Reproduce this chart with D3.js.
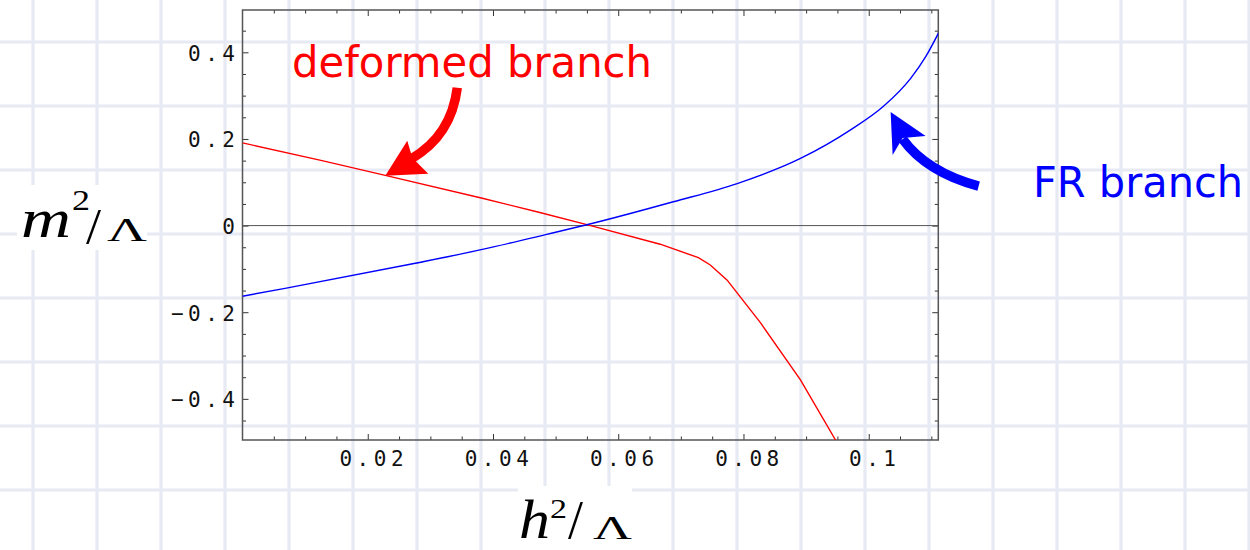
<!DOCTYPE html>
<html>
<head>
<meta charset="utf-8">
<script src="https://cdn.jsdelivr.net/npm/d3@7"></script>
<style>
  html, body { margin: 0; padding: 0; background: #fff; }
  svg { display: block; }
</style>
</head>
<body>
<svg id="chart" width="1250" height="550"></svg>
<script>
// values
var redBranch = [[0, 0.191], [0.0127, 0.150], [0.0228, 0.116], [0.0383, 0.063], [0.047, 0.032],
                 [0.0553, 0.001], [0.0667, -0.043], [0.0728, -0.074], [0.0747, -0.091],
                 [0.0774, -0.126], [0.0827, -0.224], [0.0891, -0.356], [0.0947, -0.495], [0.096, -0.53]]
var blueBranch = [[0, -0.163], [0.0068, -0.145], [0.0276, -0.087], [0.0383, -0.055], [0.0484, -0.021],
                  [0.0553, 0.003], [0.0688, 0.055], [0.079, 0.097], [0.0891, 0.155], [0.0971, 0.221],
                  [0.1024, 0.276], [0.1067, 0.34], [0.1091, 0.39], [0.1112, 0.446]]
var xTicks = [0.02, 0.04, 0.06, 0.08, 0.1]
var xTickLabels = ['0.02', '0.04', '0.06', '0.08', '0.1']
var yTicks = [-0.4, -0.2, 0, 0.2, 0.4]
var yTickLabels = ['\u22120.4', '\u22120.2', '0', '0.2', '0.4']
var xDomain = [0, 1 / 9]
var yDomain = [-0.495, 0.4977]

var RED = '#ff0000',
	BLUE = '#0000ff',
	GRID_COLOR = '#e7eaf3',
	AXIS_COLOR = '#555',
	TICK_FONT = '"DejaVu Sans Mono", monospace',
	MATH_FONT = '"Liberation Serif", "Times New Roman", serif',
	NOTE_FONT = '"DejaVu Sans", Verdana, sans-serif'

var svg = d3.select('#chart')

var x = d3.scaleLinear().domain(xDomain).range([242.5, 938.3])
var y = d3.scaleLinear().domain(yDomain).range([440, 10])

// graph paper background
var paper = svg.append('g').attr('class', 'paper')
paper.selectAll('line.v').data(d3.range(33, 1260, 64)).enter().append('line')
	.attr('class', 'v')
	.attr('x1', function(d){ return d }).attr('x2', function(d){ return d })
	.attr('y1', 0).attr('y2', 550)
paper.selectAll('line.h').data(d3.range(42, 560, 64)).enter().append('line')
	.attr('class', 'h')
	.attr('y1', function(d){ return d }).attr('y2', function(d){ return d })
	.attr('x1', 0).attr('x2', 1250)
paper.selectAll('line')
	.style('stroke', GRID_COLOR)
	.style('stroke-width', 3.2)

// white patches under the axis titles
svg.append('rect').attr('x', 17).attr('y', 185).attr('width', 130).attr('height', 65).attr('fill', '#fff')
svg.append('rect').attr('x', 518).attr('y', 486).attr('width', 114).attr('height', 64).attr('fill', '#fff')

// axes, ticks pointing inwards on all four sides
var xMinor = d3.range(0, 0.1125, 0.005).filter(function(d){ return Math.abs(d / 0.02 - Math.round(d / 0.02)) > 1e-6 })
var yMinor = d3.range(-0.45, 0.46, 0.05).filter(function(d){ return Math.abs(d / 0.2 - Math.round(d / 0.2)) > 1e-6 })

function styleAxis(g){
	g.select('.domain').remove()
	g.selectAll('.tick line').attr('stroke', '#333').attr('stroke-width', 1)
	g.attr('font-family', TICK_FONT).attr('font-size', 21)
	g.selectAll('.tick text').attr('fill', '#111').style('letter-spacing', '4.5px')
}

svg.append('g').attr('transform', 'translate(0,' + y.range()[0] + ')')
	.call(d3.axisBottom(x).tickValues(xTicks).tickSizeInner(-6).tickSizeOuter(0).tickPadding(11)
		.tickFormat(function(d, i){ return xTickLabels[i] }))
	.call(styleAxis)
	.selectAll('.tick text').attr('dx', 5.5)
svg.append('g').attr('transform', 'translate(0,' + y.range()[0] + ')')
	.call(d3.axisBottom(x).tickValues(xMinor).tickSize(-3.5).tickFormat(''))
	.call(styleAxis)
svg.append('g').attr('transform', 'translate(0,' + y.range()[1] + ')')
	.call(d3.axisTop(x).tickValues(xTicks).tickSize(-6).tickFormat(''))
	.call(styleAxis)
svg.append('g').attr('transform', 'translate(0,' + y.range()[1] + ')')
	.call(d3.axisTop(x).tickValues(xMinor).tickSize(-3.5).tickFormat(''))
	.call(styleAxis)

svg.append('g').attr('transform', 'translate(' + x.range()[0] + ',0)')
	.call(d3.axisLeft(y).tickValues(yTicks).tickSizeInner(-6).tickSizeOuter(0).tickPadding(3)
		.tickFormat(function(d, i){ return yTickLabels[i] }))
	.call(styleAxis)
	.selectAll('.tick text').attr('dy', '0.38em')
svg.append('g').attr('transform', 'translate(' + x.range()[0] + ',0)')
	.call(d3.axisLeft(y).tickValues(yMinor).tickSize(-3.5).tickFormat(''))
	.call(styleAxis)
svg.append('g').attr('transform', 'translate(' + x.range()[1] + ',0)')
	.call(d3.axisRight(y).tickValues(yTicks).tickSize(-6).tickFormat(''))
	.call(styleAxis)
svg.append('g').attr('transform', 'translate(' + x.range()[1] + ',0)')
	.call(d3.axisRight(y).tickValues(yMinor).tickSize(-3.5).tickFormat(''))
	.call(styleAxis)

// frame
svg.append('rect')
	.attr('x', x.range()[0]).attr('y', y.range()[1])
	.attr('width', x.range()[1] - x.range()[0]).attr('height', y.range()[0] - y.range()[1])
	.attr('fill', 'none').attr('stroke', AXIS_COLOR).attr('stroke-width', 1.5)

// zero line
svg.append('line')
	.attr('x1', x(xDomain[0])).attr('x2', x(xDomain[1]))
	.attr('y1', y(0)).attr('y2', y(0))
	.attr('stroke', AXIS_COLOR).attr('stroke-width', 1)

// curves
svg.append('clipPath').attr('id', 'plotclip').append('rect')
	.attr('x', x.range()[0]).attr('y', y.range()[1])
	.attr('width', x.range()[1] - x.range()[0]).attr('height', y.range()[0] - y.range()[1])

var line = d3.line().x(function(d){ return x(d[0]) }).y(function(d){ return y(d[1]) })

svg.append('path').datum(redBranch)
	.attr('d', line).attr('clip-path', 'url(#plotclip)')
	.attr('fill', 'none').attr('stroke', RED).attr('stroke-width', 1.4)
svg.append('path').datum(blueBranch)
	.attr('d', line.curve(d3.curveMonotoneX)).attr('clip-path', 'url(#plotclip)')
	.attr('fill', 'none').attr('stroke', BLUE).attr('stroke-width', 1.4)

// curved arrows, drawn relative to the point they hit
function arrow(tip, color, shaft, head){
	var g = svg.append('g').attr('transform', 'translate(' + x(tip[0]) + ',' + y(tip[1]) + ')')
	g.append('path').attr('d', shaft)
		.attr('fill', 'none').attr('stroke', color).attr('stroke-width', 9.5)
	g.append('path').attr('d', head).attr('fill', color)
}
arrow([0.0228, 0.115], RED,
	'M72,-88 Q66,-40 26,-17',
	'M0,0 L22,-35 L27,-18 L43,-2 Z')
arrow([0.1035, 0.262], BLUE,
	'M88,74 Q36,60 12,27',
	'M0,0 L35,24 L12,26 L2,43 Z')

// annotations
svg.append('text').text('deformed branch')
	.attr('x', 292).attr('y', 77)
	.attr('font-family', NOTE_FONT).attr('font-size', 42)
	.attr('textLength', 360).attr('lengthAdjust', 'spacingAndGlyphs')
	.attr('fill', RED)
svg.append('text').text('FR branch')
	.attr('x', 1033).attr('y', 197)
	.attr('font-family', NOTE_FONT).attr('font-size', 42.5)
	.attr('textLength', 210).attr('lengthAdjust', 'spacingAndGlyphs')
	.attr('fill', BLUE)

// axis titles, pieces placed one by one
function mathPiece(t, px, py, size, len, italic){
	svg.append('text').text(t)
		.attr('x', px).attr('y', py)
		.attr('font-family', MATH_FONT).attr('font-size', size)
		.attr('font-style', italic ? 'italic' : 'normal')
		.attr('textLength', len).attr('lengthAdjust', 'spacingAndGlyphs')
		.attr('fill', '#000')
}
mathPiece('m', 21, 237, 54, 50, true)
mathPiece('2', 72, 210, 29, 18, false)
mathPiece('/', 86, 243, 50, 15, false)
mathPiece('\u039B', 107, 241, 34, 40, false)

mathPiece('h', 519, 538, 54, 31, true)
mathPiece('2', 550, 518, 27, 17, false)
mathPiece('/', 568, 538, 54, 15, false)
mathPiece('\u039B', 593, 539, 34, 39, false)
</script>
</body>
</html>
